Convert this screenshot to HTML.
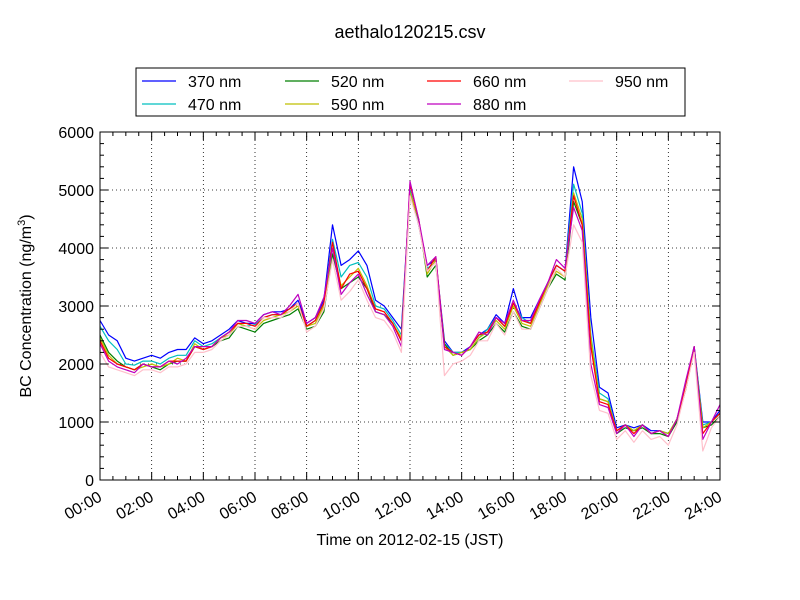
<!DOCTYPE html>
<html><head><meta charset="utf-8">
<style>
html,body{margin:0;padding:0;background:#fff;}
svg{display:block;font-family:"Liberation Sans","DejaVu Sans",sans-serif;}
</style></head>
<body>
<svg id="chart" width="800" height="600" viewBox="0 0 800 600" xmlns="http://www.w3.org/2000/svg">
<rect width="800" height="600" fill="#fff"/>
<text x="410" y="38" font-size="18" text-anchor="middle">aethalo120215.csv</text>
<g id="grid"></g>
<g id="series"></g>
<rect x="100" y="132" width="620" height="348" fill="none" stroke="#000" stroke-width="1"/>
<g id="axes"></g>
<text x="410" y="545" font-size="16" text-anchor="middle">Time on 2012-02-15 (JST)</text>
<text transform="translate(31,306) rotate(-90)" font-size="16" text-anchor="middle">BC Concentration (ng/m<tspan font-size="11" dy="-6">3</tspan><tspan dy="6">)</tspan></text>
<g id="legend"></g>
</svg>
<script>
const hours = [];
for (let i = 0; i <= 72; i++) hours.push(i / 3);
const seriesNames = ["370 nm","470 nm","520 nm","590 nm","660 nm","880 nm","950 nm"];
const seriesColors = ["#0000ff","#00bfbf","#007f00","#bfbf00","#ff0000","#bf00bf","#ffc0cb"];
const s370 = [2750,2500,2400,2100,2050,2100,2150,2100,2200,2250,2250,2450,
 2350,2400,2500,2600,2750,2700,2700,2850,2900,2900,2950,3100,
 2700,2800,3100,4400,3700,3800,3950,3700,3100,3000,2800,2600,
 5000,4400,3700,3800,2400,2200,2200,2300,2500,2600,2850,2700,
 3300,2800,2800,3100,3400,3700,3600,5400,4800,2800,1600,1500,
 900,950,900,950,850,850,800,1000,1600,2300,1000,1000,1200];
const s470 = [2650,2400,2250,2000,1980,2050,2050,2000,2100,2150,2150,2400,
 2300,2350,2450,2550,2700,2650,2680,2800,2850,2850,2950,3050,
 2650,2750,3050,4150,3500,3700,3750,3500,3000,2950,2750,2500,
 5000,4400,3650,3750,2350,2200,2200,2250,2450,2600,2800,2650,
 3050,2800,2700,3050,3400,3700,3600,5100,4600,2500,1500,1400,
 850,950,850,950,800,850,800,1050,1600,2300,950,1000,1150];
const s520 = [2500,2200,2050,1950,1900,2000,1950,1900,2000,2050,2050,2300,
 2250,2300,2400,2450,2650,2600,2550,2700,2750,2800,2850,2950,
 2600,2650,2900,3900,3300,3400,3500,3300,2900,2850,2700,2400,
 4900,4500,3500,3700,2350,2150,2200,2250,2400,2500,2700,2550,
 2900,2650,2600,2950,3300,3550,3450,4800,4400,2400,1400,1350,
 800,900,850,900,800,800,750,1000,1550,2250,900,950,1100];
const s590 = [2450,2150,2000,1950,1900,1950,2000,1950,2000,2100,2050,2350,
 2250,2300,2450,2500,2700,2650,2600,2750,2800,2850,2900,3000,
 2650,2700,3000,4000,3350,3500,3650,3350,2950,2900,2700,2450,
 4950,4500,3550,3800,2300,2150,2200,2250,2450,2550,2750,2600,
 3000,2700,2650,3000,3350,3600,3500,4950,4500,2450,1400,1350,
 850,950,850,950,800,850,800,1050,1550,2250,900,1000,1150];
const s660 = [2400,2100,2000,1950,1900,2000,1950,1950,2050,2050,2050,2300,
 2250,2300,2450,2550,2700,2700,2650,2800,2850,2850,2950,3050,
 2650,2750,3050,4100,3300,3550,3600,3300,2950,2900,2700,2400,
 5100,4500,3600,3850,2300,2200,2150,2300,2500,2550,2800,2650,
 3050,2750,2700,3050,3400,3700,3600,4900,4400,2300,1350,1300,
 850,950,800,950,800,850,750,1050,1600,2300,800,1000,1150];
const s880 = [2350,2050,1950,1900,1850,2000,1950,1950,2050,2000,2100,2300,
 2300,2300,2450,2550,2750,2750,2700,2850,2900,2850,3000,3200,
 2700,2800,3150,4000,3200,3400,3550,3200,2900,2850,2650,2300,
 5150,4500,3700,3850,2250,2200,2150,2300,2550,2500,2800,2700,
 3100,2750,2750,3100,3400,3800,3650,4700,4300,2000,1300,1250,
 800,950,750,950,800,850,750,1050,1700,2300,700,1000,1300];
const s950 = [2200,1950,1900,1850,1800,1900,1900,1850,1950,1950,2000,2200,
 2200,2250,2400,2500,2650,2650,2600,2800,2800,2800,2900,3050,
 2550,2650,2950,3800,3100,3250,3450,3100,2800,2750,2550,2200,
 4900,4400,3600,3750,1800,2000,2050,2150,2400,2400,2700,2500,
 2900,2600,2600,2950,3300,3650,3500,4400,4100,1800,1200,1150,
 700,850,650,850,700,750,600,950,1550,2200,500,900,1100];
const xTickHours = [0,2,4,6,8,10,12,14,16,18,20,22,24];
const xTickLabels = ["00:00","02:00","04:00","06:00","08:00","10:00","12:00","14:00","16:00","18:00","20:00","22:00","24:00"];
const yTicks = [0,1000,2000,3000,4000,5000,6000];

const NS = "http://www.w3.org/2000/svg";
const X0=100, X1=720, Y0=480, Y1=132;
function xs(h){ return X0 + (h/24)*(X1-X0); }
function ys(v){ return Y0 - (v/6000)*(Y0-Y1); }
function mk(tag, attrs, parent){
  const e = document.createElementNS(NS, tag);
  for (const k in attrs) e.setAttribute(k, attrs[k]);
  parent.appendChild(e); return e;
}
const grid = document.getElementById("grid");
const axes = document.getElementById("axes");
xTickHours.forEach((h,i)=>{
  const x = xs(h);
  if (i>0 && i<xTickHours.length-1){
    const g = mk("line",{x1:x,x2:x,y1:Y1,y2:Y0,stroke:"#000","stroke-width":0.8,"stroke-dasharray":"1,3"},grid);
    
    
  }
  const t = mk("line",{x1:x,x2:x,y1:Y0,y2:Y0-8,stroke:"#000"},axes);
  
  
  mk("line",{x1:x,x2:x,y1:Y1,y2:Y1+8,stroke:"#000"},axes);
  const lb = mk("text",{x:x+3,y:Y0+20,"font-size":16,"text-anchor":"end",transform:`rotate(-30 ${x+3} ${Y0+20})`},axes);
  lb.textContent = xTickLabels[i];
  
  
});
for (let h=0.5; h<24; h+=0.5){
  if (Math.abs(h-Math.round(h/2)*2)<1e-6) continue;
  const x = xs(h);
  mk("line",{x1:x,x2:x,y1:Y0,y2:Y0-4,stroke:"#000"},axes);
  mk("line",{x1:x,x2:x,y1:Y1,y2:Y1+4,stroke:"#000"},axes);
}
yTicks.forEach((v,i)=>{
  const y = ys(v);
  if (i>0 && i<yTicks.length-1){
    const g = mk("line",{x1:X0,x2:X1,y1:y,y2:y,stroke:"#000","stroke-width":0.8,"stroke-dasharray":"1,3"},grid);
    
    
  }
  const t = mk("line",{x1:X0,x2:X0+8,y1:y,y2:y,stroke:"#000"},axes);
  
  
  mk("line",{x1:X1,x2:X1-8,y1:y,y2:y,stroke:"#000"},axes);
  const lb = mk("text",{x:X0-6,y:y+6,"font-size":16,"text-anchor":"end"},axes);
  lb.textContent = String(v);
  
  
});
for (let v=200; v<6000; v+=200){
  if (v%1000===0) continue;
  const y = ys(v);
  mk("line",{x1:X0,x2:X0+4,y1:y,y2:y,stroke:"#000"},axes);
  mk("line",{x1:X1,x2:X1-4,y1:y,y2:y,stroke:"#000"},axes);
}
const allSeries = [s370,s470,s520,s590,s660,s880,s950];
const sg = document.getElementById("series");
allSeries.forEach((arr,si)=>{
  const d = arr.map((v,i)=>(i?"L":"M")+xs(hours[i]).toFixed(2)+","+ys(v).toFixed(2)).join(" ");
  const p = mk("path",{d:d,fill:"none",stroke:seriesColors[si],"stroke-width":1.2,"stroke-linejoin":"round"},sg);
  
  
});
const lg = document.getElementById("legend");
const box = mk("rect",{x:136,y:68,width:549,height:48,fill:"#fff",stroke:"#000"},lg);


const colX = [142,285,427,569];
seriesNames.forEach((n,i)=>{
  const col = Math.floor(i/2), row = i%2;
  const lx = colX[col], ly = 81 + row*23;
  const ln = mk("line",{x1:lx,x2:lx+34,y1:ly,y2:ly,stroke:seriesColors[i],"stroke-width":1.2},lg);
  
  
  const t = mk("text",{x:lx+46,y:ly+6,"font-size":16},lg);
  t.textContent = n;
  
  
});
</script>
</body></html>
